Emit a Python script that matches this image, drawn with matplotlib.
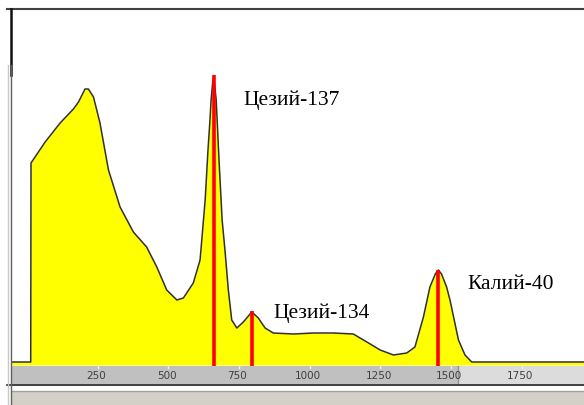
#import library
import numpy as np
import matplotlib
matplotlib.use("Agg")
import matplotlib.pyplot as plt
from matplotlib.lines import Line2D
from matplotlib.patches import Rectangle

#spectrum data (energy keV, counts in arbitrary units)
energy = [-55, 13, 14, 64, 117, 164, 182, 205, 217, 235, 258, 288, 329, 376, 423,
          459, 494, 530, 553, 588, 612, 630, 640, 647, 651, 656, 660, 664, 669, 679,
          690, 700, 712, 724, 742, 765, 795, 818, 842, 871, 942, 1013, 1083, 1154,
          1202, 1249, 1296, 1343, 1372, 1402, 1425, 1444, 1455, 1466, 1484, 1496,
          1526, 1549, 1573, 1970]
counts = [0, 0, 199, 220, 239, 253, 260, 273, 273, 265, 239, 192, 155, 130, 115,
          95, 72, 62, 64, 79, 102, 162, 212, 242, 262, 278, 285, 276, 262, 202,
          142, 112, 72, 42, 34, 40, 50, 44, 34, 29, 28, 29, 29, 28,
          20, 12, 7, 9, 15, 45, 75, 88, 92, 88, 75, 62,
          22, 7, 0, 0]

#marked peaks
peak_energy = [661, 797, 1455]
peak_height = [287, 51, 92]
peak_names = ["Цезий-137", "Цезий-134", "Калий-40"]
label_x = [764, 870, 1556]
label_y = [257, 44, 73]

ticks = [250, 500, 750, 1000, 1250, 1500, 1750]

W, H = 584, 405
def fx(px):
    return px / W
def fy(py):
    return 1 - py / H

fig = plt.figure(figsize=(W / 100, H / 100), dpi=100)
fig.patch.set_facecolor("white")

#main spectrum area
ax = fig.add_axes([fx(11.5), fy(365), 1 - fx(11.5), fy(10) - fy(365)])
ax.set_xlim(-55, 1970)
ax.set_ylim(-3, 352)
ax.fill_between(energy, counts, -3, color="#ffff00", lw=0)
ax.plot(energy, counts, color="#303030", lw=1.1)
ax.vlines(peak_energy, -7, peak_height, color="red", lw=2.6, clip_on=False, zorder=5)
for x, y, s in zip(label_x, label_y, peak_names):
    ax.text(x, y, s, fontsize=15.5, family="Liberation Serif", ha="left", va="baseline")
ax.set_xticks([])
ax.set_yticks([])
for s in ax.spines.values():
    s.set_visible(False)

#energy scale strip
ax2 = fig.add_axes([fx(11.5), fy(384), 1 - fx(11.5), fy(365.5) - fy(384)])
ax2.set_xlim(-55, 1970)
ax2.set_ylim(0, 1)
sel = (458 - 27) / 0.2827
ax2.axvspan(-55, sel, color="#c0c0c0", lw=0)
ax2.axvspan(sel, 1970, color="#dcdcdc", lw=0)
ax2.axvline(sel, color="#909090", lw=1)
for t in ticks:
    ax2.plot([t, t], [1, 0.88], color="#f0f0f0", lw=1)
    ax2.text(t - 6, 0.45, str(t), fontsize=7.5, color="#404040", ha="center", va="center")
ax2.set_xticks([])
ax2.set_yticks([])
for s in ax2.spines.values():
    s.set_visible(False)

#window frame around the chart
fig.add_artist(Rectangle((fx(11.5), 0), 1 - fx(11.5), fy(390.5), transform=fig.transFigure,
                         color="#d4d0c8", lw=0))
fig.add_artist(Line2D([fx(11.5), 1], [fy(390.5), fy(390.5)], color="#a0a0a0", lw=1))
fig.add_artist(Line2D([fx(7), 1], [fy(384.5), fy(384.5)], color="#202020", lw=1.2))
fig.add_artist(Line2D([fx(7), 1], [fy(9.3), fy(9.3)], color="#404040", lw=1.5))
fig.add_artist(Line2D([fx(11), fx(11)], [fy(9), fy(75)], color="#101010", lw=1.8))
fig.add_artist(Line2D([fx(11), fx(11)], [fy(65), 0], color="#606060", lw=1))
fig.add_artist(Line2D([fx(8), fx(8)], [fy(65), 0], color="#c8c8c8", lw=1))

plt.savefig("out.png", dpi=100)
